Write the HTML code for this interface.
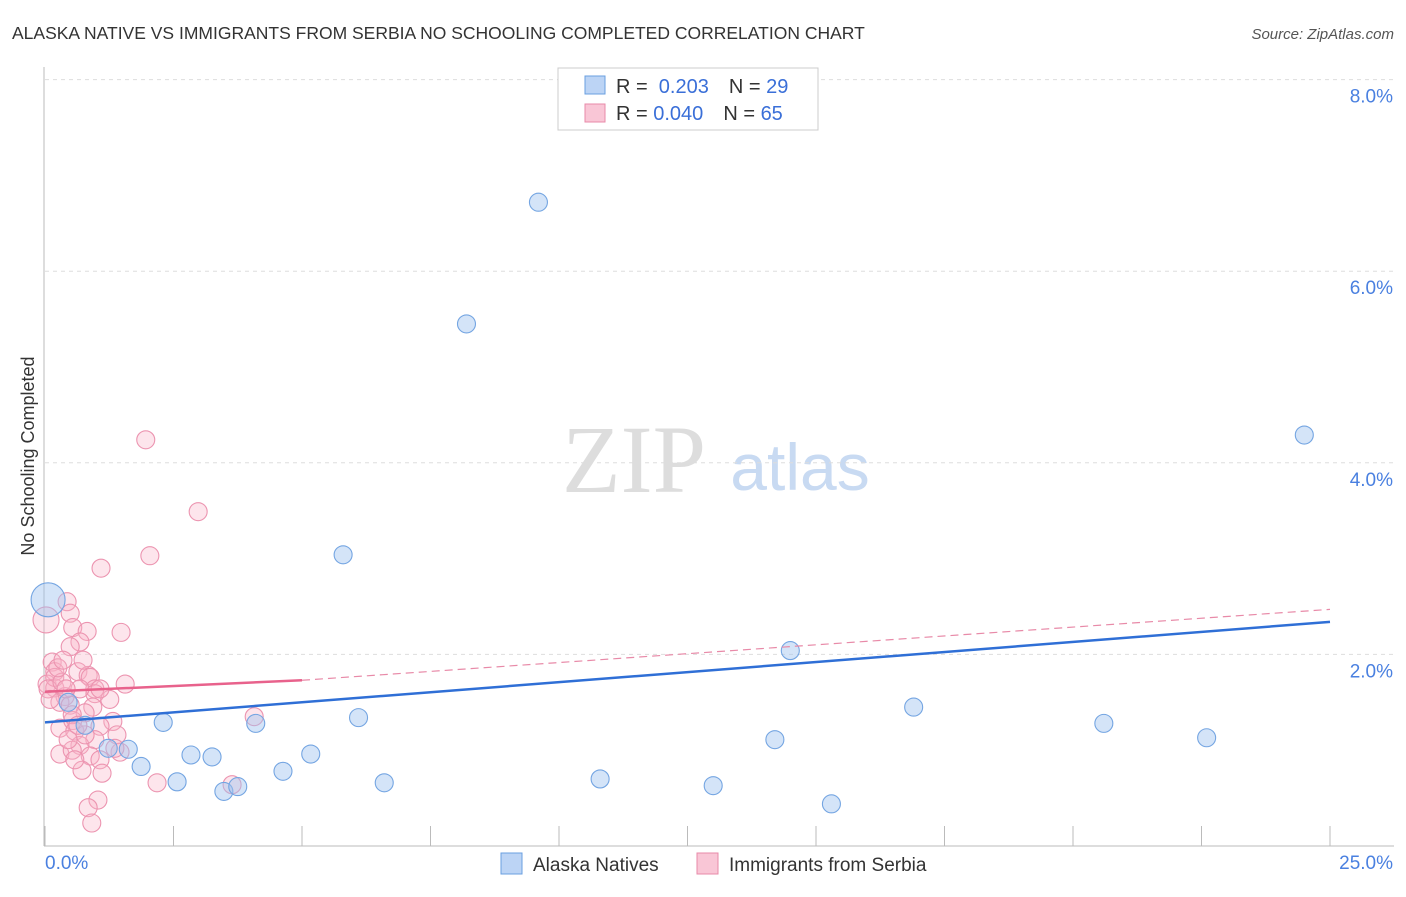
<!DOCTYPE html>
<html><head><meta charset="utf-8"><style>
body{margin:0;background:#fff;font-family:"Liberation Sans",sans-serif}
</style></head><body>
<svg id="c" width="1406" height="892" xmlns="http://www.w3.org/2000/svg">
<text x="12" y="39" font-size="17.5" fill="#333">ALASKA NATIVE VS IMMIGRANTS FROM SERBIA NO SCHOOLING COMPLETED CORRELATION CHART</text>
<text x="1394" y="39" font-size="15" fill="#555" font-style="italic" text-anchor="end">Source: ZipAtlas.com</text>
<text transform="translate(34,456) rotate(-90)" font-size="18" fill="#333" text-anchor="middle">No Schooling Completed</text>
<text x="634" y="492" font-size="96" fill="#ddd" font-family="Liberation Serif,serif" text-anchor="middle">ZIP</text>
<text x="800" y="490" font-size="66" fill="#c8daf2" text-anchor="middle">atlas</text>
<g id="grid"></g><g id="marks"></g>
<g>
<rect x="558" y="68" width="260" height="62" fill="#fff" stroke="#ccc"/>
<rect x="585" y="76" width="20" height="18" fill="#bcd4f5" stroke="#6a9fe0"/>
<rect x="585" y="104" width="20" height="18" fill="#f9c6d6" stroke="#e88aa8"/>
<text x="616" y="93" font-size="20" fill="#333">R = <tspan fill="#3a6fd8">&#160;0.203</tspan><tspan dx="20">N = </tspan><tspan fill="#3a6fd8">29</tspan></text>
<text x="616" y="120" font-size="20" fill="#333">R = <tspan fill="#3a6fd8">0.040</tspan><tspan dx="20">N = </tspan><tspan fill="#3a6fd8">65</tspan></text>
</g>
<g>
<rect x="501" y="853" width="21" height="21" fill="#bcd4f5" stroke="#6a9fe0"/>
<text x="533" y="871" font-size="19" fill="#333">Alaska Natives</text>
<rect x="697" y="853" width="21" height="21" fill="#f9c6d6" stroke="#e88aa8"/>
<text x="729" y="871" font-size="19" fill="#333">Immigrants from Serbia</text>
</g>
</svg>
<script>
const yTicks=[2,4,6,8];
const xTickLabels=["0.0%","25.0%"];
const blueX=[9.6,8.2,24.5,5.8,0.06,14.5,16.9,6.1,2.3,4.1,20.6,0.45,0.78,1.62,1.23,14.2,22.6,2.84,3.25,5.17,1.87,4.63,2.57,6.6,10.8,13.0,3.48,3.75,15.3];
const blueY=[6.72,5.45,4.29,3.04,2.57,2.04,1.45,1.34,1.29,1.28,1.28,1.5,1.26,1.01,1.02,1.11,1.13,0.95,0.93,0.96,0.83,0.78,0.67,0.66,0.70,0.63,0.57,0.62,0.44];
const pinkX=[1.96,2.98,2.04,1.09,0.43,0.49,0.02,0.54,0.82,1.48,0.68,0.49,0.14,0.19,0.64,0.84,0.88,0.04,0.19,0.97,1.56,0.97,0.39,0.29,0.49,0.93,0.78,1.32,0.29,0.54,0.58,1.07,1.4,0.97,0.68,0.29,0.53,1.46,0.88,1.07,1.11,0.72,2.18,3.64,1.03,0.84,0.91,4.07,0.19,0.06,0.33,0.68,0.53,0.78,1.36,0.45,0.1,0.25,0.74,1.26,0.58,1.07,0.41,0.35,0.64];
const pinkY=[4.24,3.49,3.03,2.9,2.55,2.43,2.36,2.28,2.24,2.23,2.13,2.08,1.92,1.82,1.82,1.78,1.76,1.69,1.65,1.64,1.69,1.59,1.56,1.5,1.47,1.45,1.39,1.3,1.23,1.31,1.2,1.25,1.16,1.11,1.05,0.96,1.0,0.98,0.94,0.9,0.76,0.79,0.66,0.64,0.48,0.4,0.24,1.35,1.76,1.64,1.71,1.64,1.37,1.16,1.02,1.11,1.53,1.86,1.94,1.53,0.90,1.64,1.64,1.94,1.26];
const blueTrend=[0,1.29,25,2.34];
const pinkTrend=[0,1.61,5,1.73,25,2.47];
const X=v=>45+v*51.4, Y=v=>846-v*95.8;
const NS="http://www.w3.org/2000/svg";
const grid=document.getElementById('grid'), marks=document.getElementById('marks');
function mk(tag,a,p){const e=document.createElementNS(NS,tag);for(const k in a)e.setAttribute(k,a[k]);p.appendChild(e);return e;}
let ax=mk('line',{x1:44,y1:67,x2:44,y2:846,stroke:'#bbb'},grid);


let bx=mk('line',{x1:44,y1:846,x2:1394,y2:846,stroke:'#bbb'},grid);


for(let i=0;i<=10;i++){let t=mk('line',{x1:X(i*2.5),x2:X(i*2.5),y1:826,y2:846,stroke:'#bbb'},grid);

}
yTicks.forEach(v=>{let g=mk('line',{x1:45,x2:1394,y1:Y(v),y2:Y(v),stroke:'#ddd','stroke-dasharray':'4,4'},grid);


let t=mk('text',{x:1393,y:Y(v)+23,'font-size':19,fill:'#4a80e0','text-anchor':'end'},grid);t.textContent=v.toFixed(1)+'%';

});
let l0=mk('text',{x:45,y:869,'font-size':19,fill:'#4a80e0'},grid);l0.textContent=xTickLabels[0];


let l1=mk('text',{x:1393,y:869,'font-size':19,fill:'#4a80e0','text-anchor':'end'},grid);l1.textContent=xTickLabels[1];


pinkX.forEach((x,i)=>{let c=mk('circle',{cx:X(x),cy:Y(pinkY[i]),r:i==6?13:9,fill:'rgba(248,180,200,0.35)',stroke:'#ec94b0','stroke-width':1.1},marks);

});
blueX.forEach((x,i)=>{let c=mk('circle',{cx:X(x),cy:Y(blueY[i]),r:i==4?17:9,fill:'rgba(160,196,240,0.45)',stroke:'#74a5e2','stroke-width':1.1},marks);

});
let bt=mk('line',{x1:X(blueTrend[0]),y1:Y(blueTrend[1]),x2:X(blueTrend[2]),y2:Y(blueTrend[3]),stroke:'#2f6fd6','stroke-width':2.5},marks);


let pt=mk('line',{x1:X(pinkTrend[0]),y1:Y(pinkTrend[1]),x2:X(pinkTrend[2]),y2:Y(pinkTrend[3]),stroke:'#e8628c','stroke-width':2.5},marks);


let pd=mk('line',{x1:X(pinkTrend[2]),y1:Y(pinkTrend[3]),x2:X(pinkTrend[4]),y2:Y(pinkTrend[5]),stroke:'#e88aa8','stroke-width':1.2,'stroke-dasharray':'8,5'},marks);


</script>
</body></html>
